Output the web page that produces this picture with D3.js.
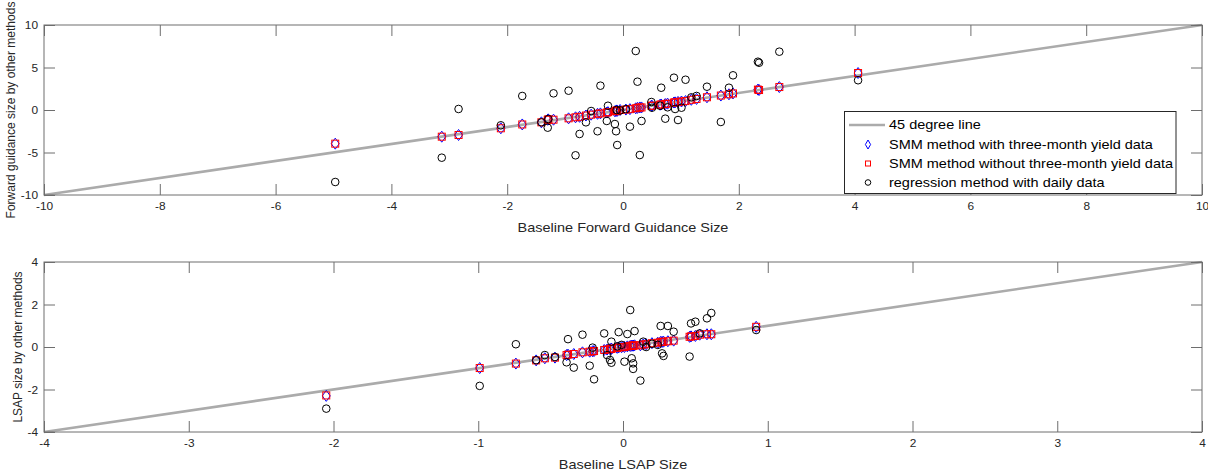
<!DOCTYPE html>
<html><head><meta charset="utf-8">
<script src="https://cdn.jsdelivr.net/npm/d3@7"></script>
<style>
html,body{margin:0;padding:0;background:#fff;}
svg{display:block;font-family:"Liberation Sans",Arial,Helvetica,sans-serif;}
</style></head><body>
<svg id="chart" width="1208" height="472"></svg>
<script>
// ---------- Data: forward guidance (top panel) ----------
const fgBaseline = [-4.97,-3.13,-2.84,-2.11,-1.74,-1.41,-1.30,-1.29,-1.20,-0.94,-0.82,-0.75,-0.64,-0.55,-0.44,-0.39,-0.28,-0.26,-0.14,-0.12,-0.11,-0.10,-0.05,0.05,0.12,0.22,0.25,0.29,0.32,0.49,0.50,0.64,0.66,0.73,0.77,0.88,0.90,0.95,1.01,1.08,1.18,1.27,1.45,1.69,1.83,1.90,2.33,2.35,2.70,4.06];
const fgSMM3m = [-3.96,-3.14,-2.94,-2.15,-1.70,-1.45,-1.15,-1.10,-1.14,-0.98,-0.86,-0.80,-0.65,-0.55,-0.45,-0.40,-0.30,-0.25,-0.15,-0.10,-0.05,-0.10,0.00,0.05,0.10,0.20,0.25,0.30,0.30,0.50,0.50,0.62,0.65,0.70,0.75,0.88,0.90,0.95,1.00,1.05,1.20,1.30,1.50,1.70,1.85,1.95,2.40,2.35,2.70,4.35];
const fgSMMno3m = [-3.96,-3.14,-2.94,-2.15,-1.70,-1.45,-1.15,-1.10,-1.14,-0.98,-0.86,-0.80,-0.65,-0.55,-0.45,-0.40,-0.30,-0.25,-0.15,-0.10,-0.05,-0.10,0.00,0.05,0.10,0.20,0.25,0.30,0.30,0.50,0.50,0.62,0.65,0.70,0.75,0.88,0.90,0.95,1.00,1.05,1.20,1.30,1.50,1.70,1.85,1.95,2.40,2.35,2.70,4.35];
const fgRegression = [-8.47,-5.61,0.12,-1.80,1.65,-1.45,-2.08,-1.06,1.96,2.27,-5.33,-2.82,-1.45,-0.12,-2.50,2.86,-1.29,0.50,-1.65,-2.50,0.00,-4.12,-0.05,0.10,-1.96,6.94,3.33,-5.30,-1.29,0.94,0.27,0.50,2.62,-1.02,0.32,3.80,0.12,-1.18,0.27,3.56,1.49,1.65,2.74,-1.41,2.62,4.08,5.68,5.56,6.86,3.50];

// ---------- Data: LSAP (bottom panel) ----------
const lsapBaseline = [-2.05,-0.99,-0.74,-0.60,-0.54,-0.47,-0.39,-0.38,-0.34,-0.28,-0.23,-0.21,-0.20,-0.13,-0.11,-0.09,-0.08,-0.08,-0.04,-0.03,-0.01,0.01,0.03,0.05,0.06,0.07,0.08,0.07,0.12,0.14,0.16,0.20,0.24,0.26,0.27,0.28,0.31,0.35,0.46,0.47,0.50,0.53,0.58,0.61,0.92];
const lsapSMM3m = [-2.30,-0.99,-0.78,-0.63,-0.53,-0.50,-0.38,-0.36,-0.33,-0.25,-0.22,-0.20,-0.19,-0.14,-0.12,-0.10,-0.09,-0.07,-0.04,-0.02,-0.01,0.00,0.03,0.05,0.06,0.07,0.08,0.06,0.08,0.12,0.13,0.18,0.20,0.24,0.24,0.25,0.27,0.30,0.48,0.50,0.52,0.58,0.60,0.60,0.95];
const lsapSMMno3m = [-2.28,-0.99,-0.78,-0.63,-0.53,-0.50,-0.38,-0.36,-0.33,-0.25,-0.22,-0.20,-0.19,-0.14,-0.12,-0.10,-0.09,-0.07,-0.04,-0.02,-0.01,0.00,0.03,0.05,0.06,0.07,0.08,0.06,0.08,0.12,0.13,0.18,0.20,0.24,0.24,0.25,0.27,0.30,0.48,0.50,0.52,0.58,0.60,0.60,0.95];
const lsapRegression = [-2.90,-1.83,0.13,-0.62,-0.38,-0.47,-0.72,0.37,-0.97,0.58,-0.88,-0.03,-1.52,0.64,-0.38,-0.61,-0.74,0.25,0.03,0.70,0.10,-0.69,0.61,1.74,-0.53,-0.77,0.75,-1.03,-1.58,0.25,0.00,0.15,0.10,0.99,-0.30,-0.42,0.99,0.72,-0.45,1.11,1.19,0.64,1.35,1.60,0.80];

// ---------- Tick labels ----------
const fgXTicks = [-10,-8,-6,-4,-2,0,2,4,6,8,10];
const fgYTicks = [-10,-5,0,5,10];
const lsapXTicks = [-4,-3,-2,-1,0,1,2,3,4];
const lsapYTicks = [-4,-2,0,2,4];
const legendLabels = ["45 degree line","SMM method with three-month yield data","SMM method without three-month yield data","regression method with daily data"];

const svg = d3.select("#chart");
const AX = "#6e6e6e", TXT = "#262626", LINE = "#ababab";
const TICK = 11;
const SX = 1.16; // horizontal stretch of horizontal text in the reference
const fmt = d => String(d);

function panel(opts){
  const {xDom,yDom,top,bottom,xTicks,yTicks,xLabel,yLabel,yLabelX,bx,b3,bn,br} = opts;
  const x = d3.scaleLinear().domain(xDom).range([44,1202]);
  const y = d3.scaleLinear().domain(yDom).range([bottom,top]);
  const g = svg.append("g");

  g.append("line")
    .attr("x1",x(xDom[0])).attr("y1",y(yDom[0]))
    .attr("x2",x(xDom[1])).attr("y2",y(yDom[1]))
    .attr("stroke",LINE).attr("stroke-width",2.6);

  g.append("g").selectAll("path").data(bx.map((v,i)=>[v,b3[i]])).join("path")
    .attr("d",d=>{const cx=x(d[0]),cy=y(d[1]);return `M${cx},${cy-5.5}L${cx+4},${cy}L${cx},${cy+5.5}L${cx-4},${cy}Z`;})
    .attr("fill","none").attr("stroke","#0000ff").attr("stroke-width",1);
  g.append("g").selectAll("rect").data(bx.map((v,i)=>[v,bn[i]])).join("rect")
    .attr("x",d=>x(d[0])-3.5).attr("y",d=>y(d[1])-3.5).attr("width",7).attr("height",7)
    .attr("fill","none").attr("stroke","#ff0000").attr("stroke-width",1);
  g.append("g").selectAll("circle").data(bx.map((v,i)=>[v,br[i]])).join("circle")
    .attr("cx",d=>x(d[0])).attr("cy",d=>y(d[1])).attr("r",3.8)
    .attr("fill","none").attr("stroke","#000").attr("stroke-width",1);

  const styleAxis = sel => {
    sel.select(".domain").remove();
    sel.selectAll(".tick line").attr("stroke",AX);
    sel.selectAll(".tick text").attr("fill",TXT).style("font-size","11px")
      .style("font-family","'Liberation Sans',Arial,sans-serif");
  };
  g.append("g").attr("transform",`translate(0,${bottom})`)
    .call(d3.axisBottom(x).tickValues(xTicks).tickSizeInner(-TICK).tickSizeOuter(0).tickPadding(7).tickFormat(fmt))
    .call(styleAxis)
    .selectAll(".tick text").attr("transform",`scale(1.08,1)`);
  g.append("g").attr("transform",`translate(0,${top})`)
    .call(d3.axisTop(x).tickValues(xTicks).tickSizeInner(-TICK).tickSizeOuter(0).tickFormat(""))
    .call(styleAxis);
  g.append("g").attr("transform",`translate(44,0)`)
    .call(d3.axisLeft(y).tickValues(yTicks).tickSizeInner(-TICK).tickSizeOuter(0).tickPadding(6).tickFormat(fmt))
    .call(styleAxis)
    .selectAll(".tick text").attr("x",-6/1.08).attr("transform",`scale(1.08,1)`);
  g.append("g").attr("transform",`translate(1202,0)`)
    .call(d3.axisRight(y).tickValues(yTicks).tickSizeInner(-TICK).tickSizeOuter(0).tickFormat(""))
    .call(styleAxis);
  g.append("rect").attr("x",44).attr("y",top).attr("width",1158).attr("height",bottom-top)
    .attr("fill","none").attr("stroke",AX).attr("stroke-width",1);

  g.append("text").attr("transform",`translate(623,${bottom+37}) scale(${SX},1)`).attr("text-anchor","middle")
    .attr("fill",TXT).style("font-size","12.5px").text(xLabel);
  g.append("text").attr("transform",`translate(${yLabelX},${(top+bottom)/2}) rotate(-90)`)
    .attr("text-anchor","middle").attr("fill",TXT).style("font-size","12px").text(yLabel);
  return {x,y,g};
}

panel({xDom:[-10,10],yDom:[-10,10],top:25,bottom:195,xTicks:fgXTicks,yTicks:fgYTicks,
  xLabel:"Baseline Forward Guidance Size",yLabel:"Forward guidance size by other methods",yLabelX:15,
  bx:fgBaseline,b3:fgSMM3m,bn:fgSMMno3m,br:fgRegression});
panel({xDom:[-4,4],yDom:[-4,4],top:262,bottom:432,xTicks:lsapXTicks,yTicks:lsapYTicks,
  xLabel:"Baseline LSAP Size",yLabel:"LSAP size by other methods",yLabelX:21.5,
  bx:lsapBaseline,b3:lsapSMM3m,bn:lsapSMMno3m,br:lsapRegression});

// legend
const lg = svg.append("g");
lg.append("rect").attr("x",844.5).attr("y",111.5).attr("width",331.5).attr("height",82)
  .attr("fill","#fff").attr("stroke","#262626").attr("stroke-width",1);
const rowsY = [125,144.5,163.5,182.5];
lg.append("line").attr("x1",849).attr("x2",885).attr("y1",rowsY[0]).attr("y2",rowsY[0])
  .attr("stroke",LINE).attr("stroke-width",2.6);
const mx = 868;
lg.append("path").attr("d",`M${mx},${rowsY[1]-4.5}L${mx+2.6},${rowsY[1]}L${mx},${rowsY[1]+4.5}L${mx-2.6},${rowsY[1]}Z`)
  .attr("fill","none").attr("stroke","#0000ff");
lg.append("rect").attr("x",mx-2.5).attr("y",rowsY[2]-2.5).attr("width",5).attr("height",5)
  .attr("fill","none").attr("stroke","#ff0000");
lg.append("circle").attr("cx",mx).attr("cy",rowsY[3]).attr("r",2.8)
  .attr("fill","none").attr("stroke","#000");
lg.selectAll("text.lt").data(legendLabels).join("text").attr("class","lt")
  .attr("transform",(d,i)=>`translate(889,${rowsY[i]}) scale(${SX},1)`).attr("dy","0.35em")
  .attr("fill","#000").style("font-size","12.5px").text(d=>d);
</script>
</body></html>
